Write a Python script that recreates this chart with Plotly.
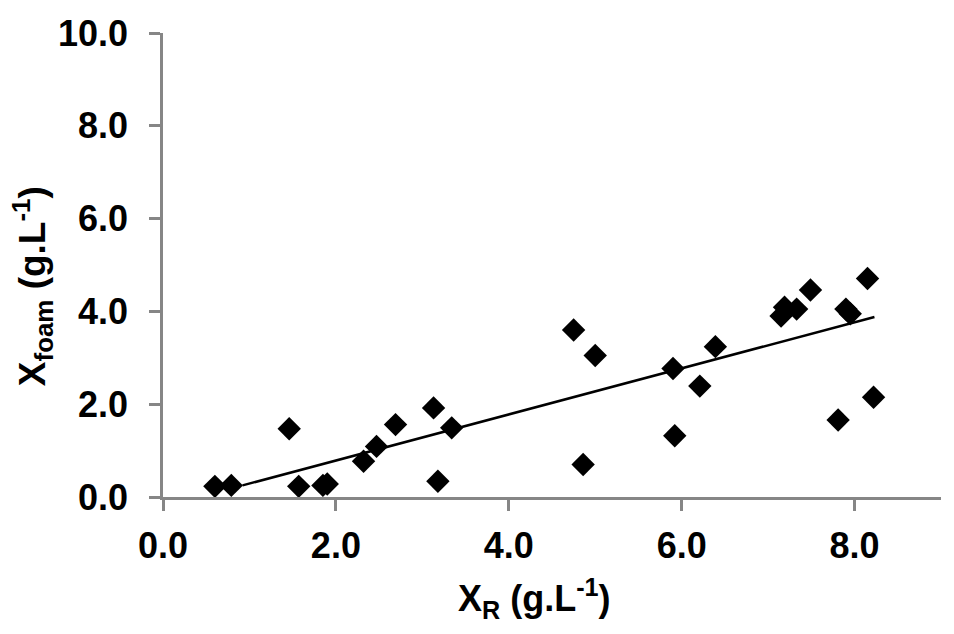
import plotly.graph_objects as go

x_r = [0.60, 0.79, 1.46, 1.57, 1.85, 1.90, 2.32, 2.47, 2.69, 3.13, 3.18, 3.34,
       4.75, 4.86, 5.00, 5.90, 5.92, 6.21, 6.39,
       7.15, 7.19, 7.33, 7.49, 7.81, 7.90, 7.95, 8.15, 8.22]
x_foam = [0.23, 0.25, 1.47, 0.23, 0.25, 0.28, 0.77, 1.09, 1.56, 1.92, 0.34, 1.49,
          3.60, 0.70, 3.05, 2.77, 1.32, 2.39, 3.24,
          3.90, 4.09, 4.05, 4.46, 1.66, 4.05, 3.95, 4.71, 2.15]

# Linear trend line endpoints
trend_x = [0.92, 8.23]
trend_y = [0.25, 3.88]

x_ticks = [0, 2, 4, 6, 8]
y_ticks = [0, 2, 4, 6, 8, 10]

FONT = "Liberation Sans, Arial, sans-serif"
AXIS_COLOR = "#868686"

# page has an 8px body margin; figure is sized to fit inside it
W, H = 938, 618
L, R, T, B = 155, 5, 18, 129
PW, PH = W - L - R, H - T - B

fig = go.Figure()
fig.add_trace(go.Scatter(
    x=x_r, y=x_foam, mode="markers",
    marker=dict(symbol="diamond", size=18, color="black", line=dict(width=0)),
    showlegend=False, cliponaxis=False,
))
fig.add_trace(go.Scatter(
    x=trend_x, y=trend_y, mode="lines",
    line=dict(color="black", width=2.5),
    showlegend=False,
))

axis_common = dict(
    showgrid=False, zeroline=False, showline=True,
    linecolor=AXIS_COLOR, linewidth=2.5,
    ticks="outside", ticklen=11, tickwidth=2.5, tickcolor=AXIS_COLOR,
    tickfont=dict(family=FONT, size=36, color="black", weight="bold"),
    tickformat=".1f", ticklabeloverflow="allow",
)

fig.update_xaxes(range=[0, 9], tickvals=x_ticks, ticklabelstandoff=4, **axis_common)
fig.update_yaxes(range=[0, 10], tickvals=y_ticks, ticklabelstandoff=14, **axis_common)

fig.add_annotation(
    text="<b>X<sub>R</sub> (g.L<sup>-1</sup>)</b>",
    xref="paper", yref="paper", x=(534 - 8 - L) / PW, y=-(600 - 8 - (T + PH)) / PH,
    xanchor="center", yanchor="middle", showarrow=False,
    font=dict(family=FONT, size=36, color="black"),
)
fig.add_annotation(
    text="<b>X<sub>foam</sub> (g.L<sup>-1</sup>)</b>",
    xref="paper", yref="paper", x=-(L - (32 - 8)) / PW, y=((T + PH) - (283 - 8)) / PH,
    xanchor="center", yanchor="middle", showarrow=False, textangle=-90,
    font=dict(family=FONT, size=37, color="black"),
)

fig.update_layout(
    width=W, height=H,
    margin=dict(l=L, r=R, t=T, b=B),
    plot_bgcolor="white", paper_bgcolor="white",
)

fig.write_html("out.html")
